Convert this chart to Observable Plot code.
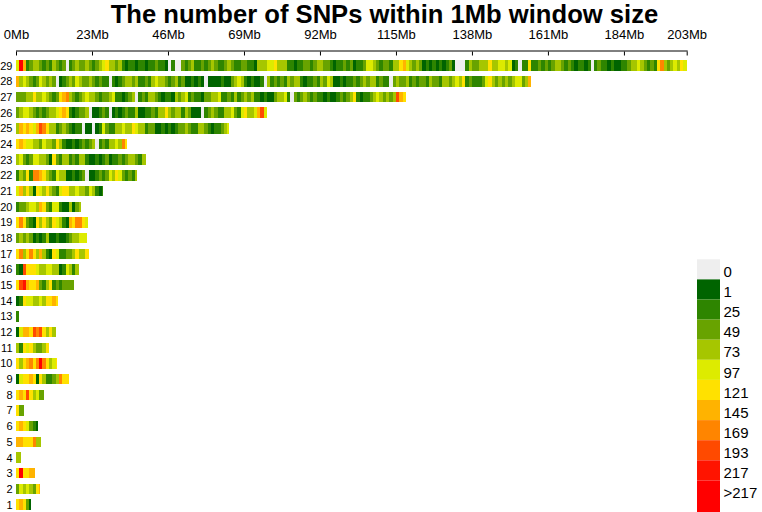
<!DOCTYPE html>
<html><head><meta charset="utf-8">
<script src="https://cdn.jsdelivr.net/npm/d3@7"></script>
<script src="https://cdn.jsdelivr.net/npm/@observablehq/plot@0.6"></script>
<style>
html,body{margin:0;padding:0;background:#fff;}
#wrap{position:relative;width:762px;height:512px;overflow:hidden;font-family:"Liberation Sans",Arial,sans-serif;}
#chart{position:absolute;left:0;top:0;}
#legend{position:absolute;left:697px;top:259px;}
</style></head><body>
<div id="wrap"><div id="chart"></div><div id="legend"></div></div>
<script>
const titleText = "The number of SNPs within 1Mb window size";
const xTicksMb = [0, 23, 46, 69, 92, 115, 138, 161, 184, 203];
const chromosomes = ["1","2","3","4","5","6","7","8","9","10","11","12","13","14","15","16","17","18","19","20","21","22","23","24","25","26","27","28","29"];
const chromLengthMb = [4.5, 7.4, 5.8, 1.5, 7.7, 6.6, 2.3, 8.5, 16, 12.5, 10, 12, 0.9, 12.6, 17.6, 19, 22.2, 21.4, 21.9, 19.7, 26.4, 36.7, 39.3, 33.7, 64.6, 75.9, 117.9, 155.9, 203];
// one character per 1Mb window: index into legendLabels (base 12: 0-9, a, b)
const windowLevels = [
  "67631",
  "35454367",
  "6b6677",
  "44",
  "77666844",
  "6765321",
  "633",
  "676964533",
  "1566761642234866",
  "6467868b86456",
  "4265643346",
  "157769896464",
  "2",
  "1265544546676",
  "69a766732462323333",
  "2196665445544125424",
  "68468647421652233464466",
  "3434312124112112344555",
  "6863216464365421768865",
  "23345547632552114134",
  "574641654643256644544354212",
  "2436288764325441121230112323546532324",
  "4532355443163244232442112123122323443244",
  "6765544354436421121232340232445486",
  "4767657986442343212201101253224454" + "4654423311212123343224432122345",
  "3455432323445676212334011232012123" + "2" + "2411223244643442431110234322445325644579" + "5",
  "3334464454323678432345443233452212340232443212214345232213344522324" +
    "234342212113445203234323221211232346212234543434976",
  "7454323543430123435433432322021234434223245443234231121210111121134" +
    "542121120423232434421223243541121223234344232203433423233243324434546232" +
    "22356434343455347",
  "5b7234432324323023433432345644342122122122322102003234223234322343" + "2" +
    "233221444556444221223323443321223231223554323324467543431212121231000243" +
    "3444644554512022622323234432321221202322121122344543232684345465"
];
const legendLabels = ["0", "1", "25", "49", "73", "97", "121", "145", "169", "193", "217", ">217"];
const legendColors = ["#EEEEEE", "#006400", "#2E8500", "#68A300", "#A6C600", "#DDEB00", "#FFE100", "#FFB300", "#FF8500", "#FF4A00", "#FF1400", "#FF0000"];

const windows = [];
chromosomes.forEach((chr, c) => {
  const codes = windowLevels[c];
  for (let i = 0; i < codes.length; i++) {
    const lvl = parseInt(codes[i], 12);
    windows.push({chr, start: i, end: Math.min(i + 1, chromLengthMb[c]), bin: legendLabels[lvl]});
  }
});

const font = "'Liberation Sans', Arial, sans-serif";
const chart = Plot.plot({
  width: 762, height: 512,
  marginLeft: 16, marginRight: 75.3, marginTop: 50.5, marginBottom: 0,
  style: {fontFamily: font, color: "#000", background: "transparent", overflow: "visible"},
  x: {domain: [0, 203], axis: null},
  y: {domain: chromosomes.slice().reverse(), range: [55.3, 514.9], padding: 0.33, round: false, axis: null},
  color: {type: "ordinal", domain: legendLabels, range: legendColors},
  marks: [
    Plot.barX(windows, {x1: "start", x2: "end", y: "chr", fill: "bin", shapeRendering: "crispEdges"}),
    Plot.axisY({anchor: "left", tickSize: 0, tickPadding: 4, fontSize: 11, label: null}),
    Plot.frame({anchor: "top", stroke: "#000"}),
    Plot.axisX(xTicksMb, {anchor: "top", tickSize: -4, tickFormat: () => "", label: null}),
    Plot.text(xTicksMb, {x: d => d, frameAnchor: "top", lineAnchor: "top", dy: -21.2, text: d => d + "Mb", fontSize: 13}),
    Plot.text([titleText], {frameAnchor: "top", lineAnchor: "top", dx: 32.6, dy: -46.5, text: d => d, fontSize: 25.6, fontWeight: "bold"})
  ]
});
document.getElementById("chart").appendChild(chart);

const legend = Plot.plot({
  width: 65, height: 253, margin: 0,
  style: {fontFamily: font, color: "#000", background: "transparent", overflow: "visible"},
  x: {domain: [0, 1], range: [0, 23], axis: null},
  y: {domain: [0, 12], range: [0.3, 241.5], axis: null},
  color: {type: "ordinal", domain: legendLabels, range: legendColors},
  marks: [
    Plot.rect(legendLabels, {x1: 0, x2: 1, y1: (d, i) => i, y2: (d, i) => i === legendLabels.length - 1 ? i + 1.6 : i + 1, fill: d => d}),
    Plot.text(legendLabels, {x: 1, y: (d, i) => i + 0.62, text: d => d, textAnchor: "start", dx: 3, fontSize: 15})
  ]
});
document.getElementById("legend").appendChild(legend);
</script>
</body></html>
